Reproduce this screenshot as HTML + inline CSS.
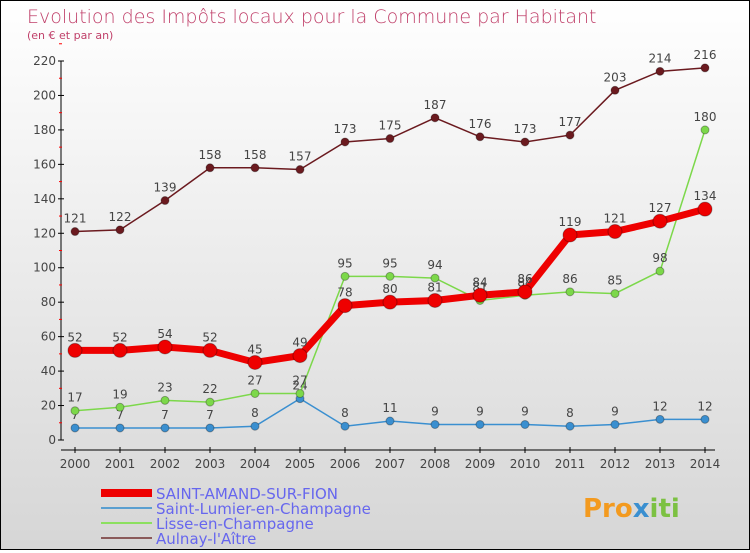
<!DOCTYPE html>
<html><head><meta charset="utf-8"><style>
body{margin:0;}
#c{width:748px;height:548px;border:1px solid #000;background:linear-gradient(#fff,#d6d6d6);position:relative;font-family:"DejaVu Sans","Liberation Sans",sans-serif;}
</style></head><body>
<div id="c">
<svg id="s" width="748" height="548">
<text x="26" y="22" font-size="19" fill="#c0406a" font-weight="300">Evolution des Impôts locaux pour la Commune par Habitant</text>
<text x="26" y="38" font-size="11" fill="#c0406a">(en € et par an)</text>
<g id="axes"></g><g id="series"></g><g id="legend"></g>
<text x="582" y="516" font-size="26" font-weight="bold" fill="#f39a1f">Pro<tspan fill="#3a8fd0">x</tspan><tspan fill="#7cc142">iti</tspan></text>
</svg></div>
<script>
const years=[2000,2001,2002,2003,2004,2005,2006,2007,2008,2009,2010,2011,2012,2013,2014];
const yTicks=[0,20,40,60,80,100,120,140,160,180,200,220];
const saintAmand=[52,52,54,52,45,49,78,80,81,84,86,119,121,127,134];
const saintLumier=[7,7,7,7,8,24,8,11,9,9,9,8,9,12,12];
const lisse=[17,19,23,22,27,27,95,95,94,81,84,86,85,98,180];
const aulnay=[121,122,139,158,158,157,173,175,187,176,173,177,203,214,216];
const NS="http://www.w3.org/2000/svg";
const X=i=>74+i*45, Y=v=>439-v*(379/220);
function mk(t,a,p){const e=document.createElementNS(NS,t);for(const k in a)e.setAttribute(k,a[k]);p.appendChild(e);return e;}
const ax=document.getElementById('axes');
let l=mk('line',{x1:60,y1:Y(220),x2:60,y2:Y(0),stroke:'#000'},ax);


l=mk('line',{x1:60,y1:449,x2:X(14)+10,y2:449,stroke:'#000'},ax);


yTicks.forEach(v=>{mk('line',{x1:57,y1:Y(v),x2:63,y2:Y(v),stroke:'#000'},ax);
 mk('line',{x1:58,y1:Y(v+10),x2:61,y2:Y(v+10),stroke:'red'},ax);
 const t=mk('text',{x:55,y:Y(v)+4,'font-size':12,fill:'#444','text-anchor':'end'},ax);t.textContent=v;
 
 });
years.forEach((y,i)=>{mk('line',{x1:X(i),y1:446,x2:X(i),y2:452,stroke:'#000'},ax);
 const t=mk('text',{x:X(i),y:467,'font-size':12,fill:'#444','text-anchor':'middle'},ax);t.textContent=y;
 
 });
const se=document.getElementById('series');
function draw(data,color,lw,r,name,lab){
 const g=mk('g',{},se);
 
 
 mk('polyline',{points:data.map((v,i)=>X(i)+','+Y(v)).join(' '),fill:'none',stroke:color,'stroke-width':lw},g);
 data.forEach((v,i)=>{const c=mk('circle',{cx:X(i),cy:Y(v),r:r,fill:color,stroke:'rgba(0,0,0,0.3)'},g);
  
  
  const t=mk('text',{x:X(i),y:Y(v)-9,'font-size':12,fill:'#444','text-anchor':'middle'},g);t.textContent=v;
  
  });
}
draw(aulnay,'#6b1a1f',1.5,4,'aulnay-series');
draw(saintLumier,'#3a8fd0',1.5,4,'saint-lumier-series');
draw(lisse,'#7cd84a',1.5,4,'lisse-series');
draw(saintAmand,'#ee0000',7,7,'saint-amand-series');
const lg=document.getElementById('legend');
[['SAINT-AMAND-SUR-FION','#ee0000',8],['Saint-Lumier-en-Champagne','#5a9fd0',2],['Lisse-en-Champagne','#8ce060',2],['Aulnay-l\'Aître','#8a5a5a',2]].forEach((d,i)=>{
 const y=492+i*15;
 const g=mk('g',{},lg);
 
 
 mk('line',{x1:100,y1:y,x2:151,y2:y,stroke:d[1],'stroke-width':d[2]},g);
 const t=mk('text',{x:155,y:y+6,'font-size':15,fill:'#6666ee'},g);t.textContent=d[0];
});
</script></body></html>
